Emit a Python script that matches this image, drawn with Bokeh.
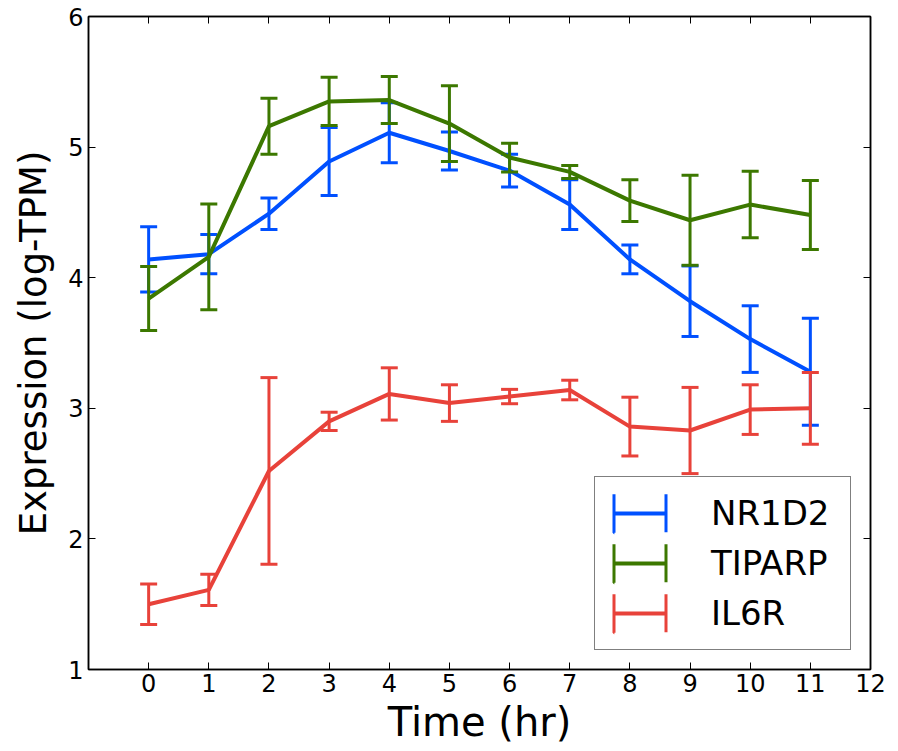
import numpy as np
from bokeh.plotting import figure
from bokeh.models import ColumnDataSource, Legend, LegendItem, FixedTicker, LinearAxis, Range1d
from bokeh.embed import file_html
from bokeh.resources import INLINE

# ---------------- data ----------------
time_hr = [0, 1, 2, 3, 4, 5, 6, 7, 8, 9, 10, 11]

nr1d2 = [4.14, 4.18, 4.49, 4.89, 5.11, 4.97, 4.82, 4.56, 4.14, 3.82, 3.53, 3.28]
nr1d2_err = [0.25, 0.15, 0.12, 0.26, 0.23, 0.145, 0.125, 0.19, 0.11, 0.27, 0.255, 0.41]

tiparp = [3.84, 4.16, 5.16, 5.35, 5.36, 5.18, 4.92, 4.81, 4.59, 4.44, 4.56, 4.48]
tiparp_err = [0.245, 0.405, 0.215, 0.185, 0.18, 0.29, 0.11, 0.05, 0.16, 0.345, 0.255, 0.265]

il6r = [1.50, 1.61, 2.52, 2.90, 3.11, 3.04, 3.09, 3.14, 2.86, 2.83, 2.99, 3.00]
il6r_err = [0.155, 0.12, 0.715, 0.07, 0.2, 0.14, 0.055, 0.075, 0.225, 0.33, 0.19, 0.275]

series_names = ["NR1D2", "TIPARP", "IL6R"]
series_colors = ["#0050ff", "#3c7800", "#e8423a"]

x_ticks = [0, 1, 2, 3, 4, 5, 6, 7, 8, 9, 10, 11, 12]
y_ticks = [1, 2, 3, 4, 5, 6]

FONT = "DejaVu Sans"

# ---------------- figure ----------------
p = figure(width=898, height=751,
           x_range=Range1d(-1, 12), y_range=Range1d(1, 6),
           output_backend="svg", toolbar_location=None,
           min_border_left=88, min_border_right=28,
           min_border_top=16, min_border_bottom=82)

p.xgrid.visible = False
p.ygrid.visible = False
p.outline_line_color = "black"
p.outline_line_width = 1.5
p.background_fill_color = "white"
p.border_fill_color = "white"

p.xaxis.ticker = FixedTicker(ticks=x_ticks)
p.yaxis.ticker = FixedTicker(ticks=y_ticks)
p.xaxis.axis_label = "Time (hr)"
p.yaxis.axis_label = "Expression (log-TPM)"

for ax in (p.xaxis[0], p.yaxis[0]):
    ax.axis_line_color = "black"
    ax.axis_line_width = 1.5
    ax.major_tick_in = 7
    ax.major_tick_out = 0
    ax.major_tick_line_color = "black"
    ax.minor_tick_line_color = None
    ax.major_label_text_font = FONT
    ax.major_label_text_font_size = "24px"
    ax.major_label_text_color = "black"
    ax.axis_label_text_font = FONT
    ax.axis_label_text_font_style = "normal"
    ax.axis_label_text_color = "black"

p.xaxis.major_label_standoff = 4
p.xaxis.axis_label_standoff = 4
p.xaxis.axis_label_text_font_size = "40px"
p.yaxis.major_label_standoff = 5
p.yaxis.axis_label_standoff = 10
p.yaxis.axis_label_text_font_size = "37px"

# mirrored ticks on top and right (no labels)
for place, ticks in (("above", x_ticks), ("right", y_ticks)):
    ax = LinearAxis(ticker=FixedTicker(ticks=ticks),
                    axis_line_color="black", axis_line_width=1.5,
                    major_tick_in=7, major_tick_out=0,
                    major_tick_line_color="black",
                    minor_tick_line_color=None,
                    major_label_text_color=None,
                    major_label_text_font_size="1px",
                    major_label_standoff=0)
    p.add_layout(ax, place)

# ---------------- series ----------------
items = []
for name, vals, errs, color in zip(series_names,
                                   [nr1d2, tiparp, il6r],
                                   [nr1d2_err, tiparp_err, il6r_err],
                                   series_colors):
    vals_a = np.array(vals)
    errs_a = np.array(errs)
    src = ColumnDataSource(dict(x=time_hr, y=vals,
                                lo=list(vals_a - errs_a), hi=list(vals_a + errs_a)))
    p.line("x", "y", source=src, line_color=color, line_width=4)
    p.segment(x0="x", y0="lo", x1="x", y1="hi", source=src,
              line_color=color, line_width=3)
    p.scatter("x", "lo", source=src, marker="dash", size=17,
              line_color=color, line_width=3)
    p.scatter("x", "hi", source=src, marker="dash", size=17,
              line_color=color, line_width=3)

    # legend icon (error-bar shaped): middle line + two vertical caps
    # (NaN placeholder so nothing is drawn in the plot area)
    blank = ColumnDataSource(dict(x=[np.nan], y=[np.nan]))
    lr = p.hspan(y="y", source=blank, line_color=color, line_width=4,
                 line_dash="0 7 51 7")
    rr = p.rect("x", "y", width=1, height=1, source=blank,
                fill_color=None, line_color=color, line_width=3,
                line_dash="0 52 38 52 38")
    items.append(LegendItem(label=name, renderers=[lr, rr]))

legend = Legend(items=items, location="bottom_right", margin=19,
                padding=12, spacing=2,
                glyph_width=65, glyph_height=48,
                label_standoff=39, label_width=127, label_height=40,
                label_text_font=FONT, label_text_font_size="34px",
                label_text_color="black",
                border_line_color="black", border_line_width=1.5,
                background_fill_color="white", background_fill_alpha=1.0)
p.add_layout(legend)

open("out.html", "w").write(file_html(p, INLINE))
